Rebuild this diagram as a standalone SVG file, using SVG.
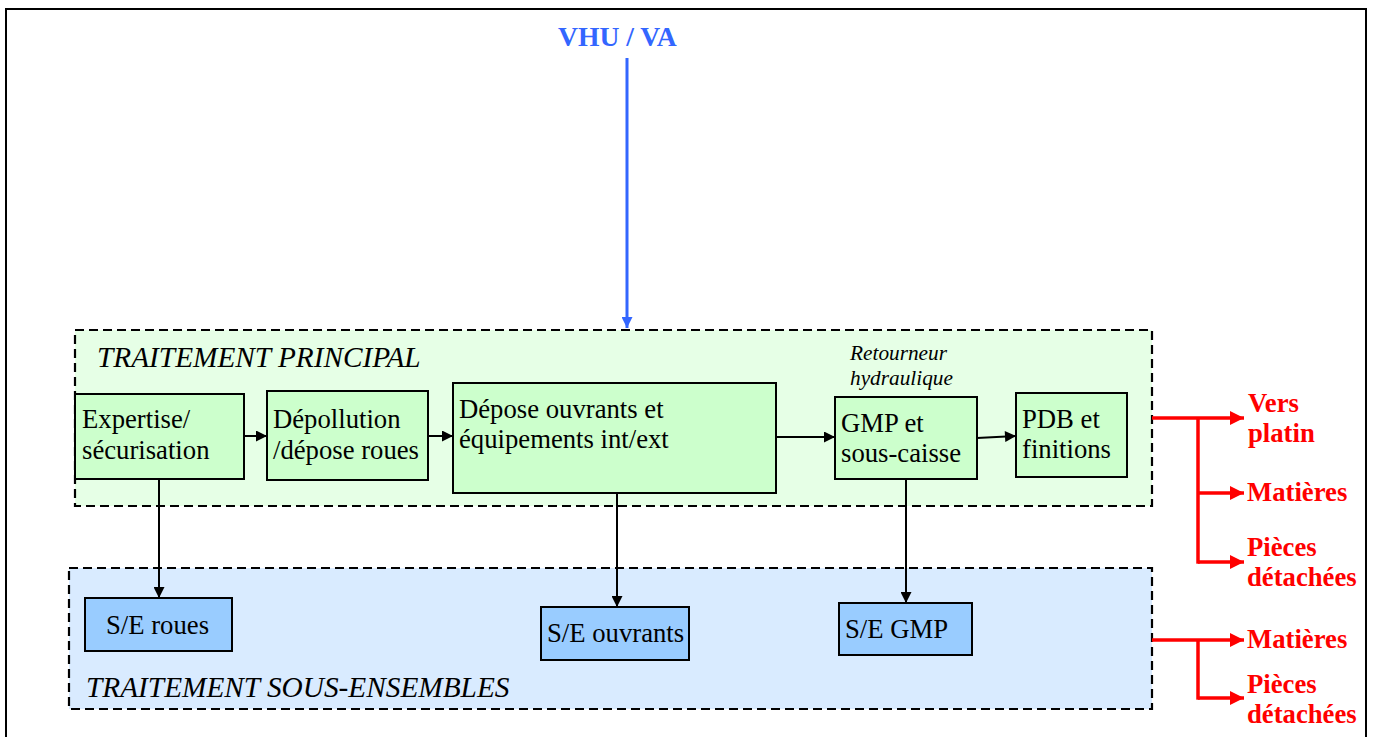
<svg xmlns="http://www.w3.org/2000/svg" width="1373" height="737" viewBox="0 0 1373 737">
<defs>
<style>
.lbl{font-family:'Liberation Serif','Times New Roman',serif;font-size:26.7px;fill:#000}
.ital{font-family:'Liberation Serif','Times New Roman',serif;font-style:italic;fill:#000}
.red{font-family:'Liberation Serif','Times New Roman',serif;font-size:26.7px;font-weight:bold;fill:#FF0000}
.gbox{fill:#CCFFCC;stroke:#000;stroke-width:2}
.bbox{fill:#99CCFF;stroke:#000;stroke-width:2}
.cont{stroke:#000;stroke-width:2.2;stroke-dasharray:9 5}
.blk{stroke:#000;stroke-width:2;fill:none}
.rl{stroke:#FF0000;stroke-width:3.5;fill:none}
</style>
<marker id="ab" viewBox="0 0 10 10" refX="10" refY="5" markerWidth="13" markerHeight="11" markerUnits="userSpaceOnUse" orient="auto"><path d="M0,0L10,5L0,10z" fill="#000"/></marker>
<marker id="ar" viewBox="0 0 10 10" refX="10" refY="5" markerWidth="15" markerHeight="14" markerUnits="userSpaceOnUse" orient="auto"><path d="M0,0L10,5L0,10z" fill="#FF0000"/></marker>
<marker id="au" viewBox="0 0 10 10" refX="10" refY="5" markerWidth="12" markerHeight="11" markerUnits="userSpaceOnUse" orient="auto"><path d="M0,0L10,5L0,10z" fill="#3366FF"/></marker>
</defs>
<rect x="0" y="0" width="1373" height="737" fill="#fff"/>
<rect x="6" y="9" width="1360" height="740" fill="none" stroke="#000" stroke-width="2"/>

<g id="containers">
<rect id="principal" class="cont" x="75" y="330" width="1077" height="176" fill="#E6FFE6"/>
<text class="ital" x="97" y="367" style="font-size:29.3px">TRAITEMENT PRINCIPAL</text>
<rect id="sousensembles" class="cont" x="69" y="568" width="1083" height="141" fill="#D9EBFF"/>
<text class="ital" x="86" y="697" style="font-size:29.3px">TRAITEMENT SOUS-ENSEMBLES</text>
</g>

<g id="source">
<text x="558" y="46" font-family="Liberation Serif, Times New Roman, serif" font-size="27.6" font-weight="bold" fill="#3366FF">VHU / VA</text>
</g>

<g id="n-expertise"><rect class="gbox" x="75" y="394" width="169" height="85"/><text class="lbl" x="82" y="428">Expertise/</text><text class="lbl" x="82" y="459">sécurisation</text></g>
<g id="n-depollution"><rect class="gbox" x="267" y="391" width="161" height="89"/><text class="lbl" x="273" y="428">Dépollution</text><text class="lbl" x="273" y="459">/dépose roues</text></g>
<g id="n-depose"><rect class="gbox" x="453" y="383" width="323" height="110"/><text class="lbl" x="459" y="418">Dépose ouvrants et</text><text class="lbl" x="459" y="448">équipements int/ext</text></g>
<g id="n-retourneur"><text class="ital" x="850" y="360" style="font-size:21.3px">Retourneur</text><text class="ital" x="850" y="385" style="font-size:21.3px">hydraulique</text></g>
<g id="n-gmp"><rect class="gbox" x="835" y="397" width="142" height="82"/><text class="lbl" x="841" y="432">GMP et</text><text class="lbl" x="841" y="462">sous-caisse</text></g>
<g id="n-pdb"><rect class="gbox" x="1016" y="393" width="111" height="84"/><text class="lbl" x="1022" y="428">PDB et</text><text class="lbl" x="1022" y="458">finitions</text></g>

<g id="n-seroues"><rect class="bbox" x="85" y="598" width="147" height="53"/><text class="lbl" x="106" y="634">S/E roues</text></g>
<g id="n-seouvrants"><rect class="bbox" x="541" y="607" width="148" height="53"/><text class="lbl" x="547" y="642">S/E ouvrants</text></g>
<g id="n-segmp"><rect class="bbox" x="839" y="603" width="133" height="52"/><text class="lbl" x="845" y="638">S/E GMP</text></g>

<g id="outputs">
<text class="red" x="1248" y="412">Vers</text>
<text class="red" x="1248" y="442">platin</text>
<text class="red" x="1247" y="501">Matières</text>
<text class="red" x="1247" y="556">Pièces</text>
<text class="red" x="1247" y="586">détachées</text>
<text class="red" x="1247" y="648">Matières</text>
<text class="red" x="1247" y="693">Pièces</text>
<text class="red" x="1247" y="723">détachées</text>
</g>

<g id="connectors">
<line x1="627" y1="58" x2="627" y2="328" stroke="#3366FF" stroke-width="3" marker-end="url(#au)"/>
<line class="blk" x1="244" y1="436" x2="267" y2="436" marker-end="url(#ab)"/>
<line class="blk" x1="428" y1="436" x2="453" y2="436" marker-end="url(#ab)"/>
<line class="blk" x1="776" y1="437" x2="835" y2="437" marker-end="url(#ab)"/>
<line class="blk" x1="977" y1="438" x2="1016" y2="436" marker-end="url(#ab)"/>
<line class="blk" x1="159" y1="479" x2="159" y2="598" marker-end="url(#ab)"/>
<line class="blk" x1="617" y1="493" x2="617" y2="607" marker-end="url(#ab)"/>
<line class="blk" x1="906" y1="479" x2="906" y2="603" marker-end="url(#ab)"/>
<line class="rl" x1="1152" y1="418" x2="1244" y2="418" marker-end="url(#ar)"/>
<line class="rl" x1="1198" y1="418" x2="1198" y2="563.7"/>
<line class="rl" x1="1198" y1="493" x2="1244" y2="493" marker-end="url(#ar)"/>
<line class="rl" x1="1198" y1="562" x2="1244" y2="562" marker-end="url(#ar)"/>
<line class="rl" x1="1152" y1="640" x2="1244" y2="640" marker-end="url(#ar)"/>
<line class="rl" x1="1198" y1="640" x2="1198" y2="699.7"/>
<line class="rl" x1="1198" y1="698" x2="1244" y2="698" marker-end="url(#ar)"/>
</g>
</svg>
